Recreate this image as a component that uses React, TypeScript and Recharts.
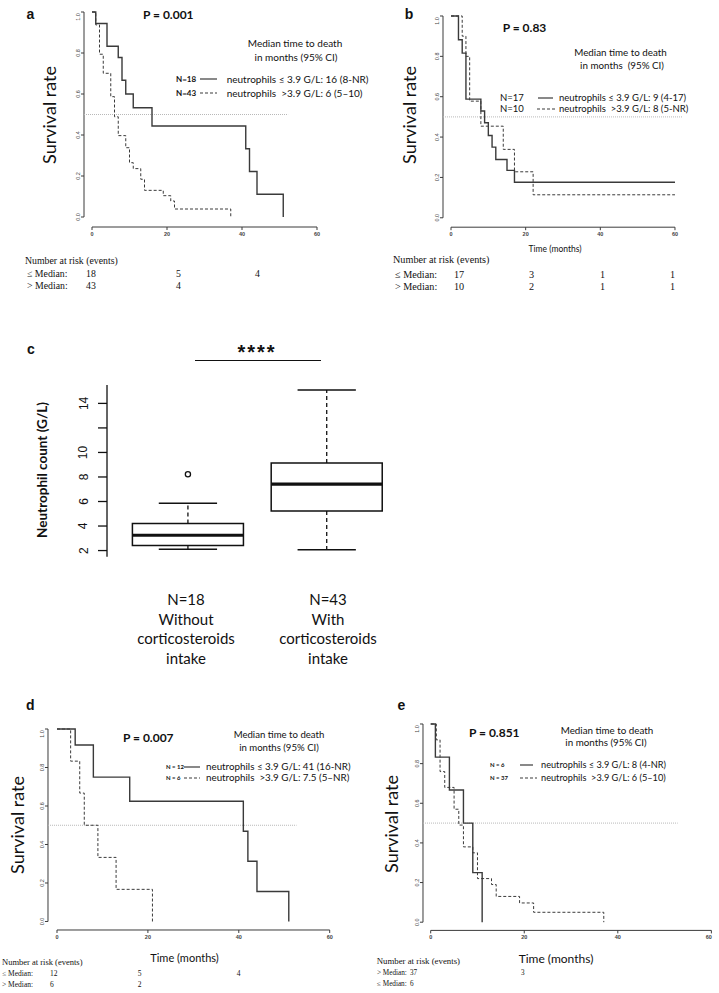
import React from 'react'
import {
  ComposedChart,
  LineChart,
  Line,
  Scatter,
  XAxis,
  YAxis,
  ReferenceLine,
  ReferenceArea,
} from 'recharts'

const LATO = 'Lato, "Open Sans", sans-serif'
const SERIF = '"Liberation Serif", "DejaVu Serif", serif'
const ARIAL = '"Liberation Sans", Arial, sans-serif'
const INK = '#3a3a3a'

// a — whole cohort, neutrophils <= 3.9 vs > 3.9 G/L
const aLowMonths = [0, 1, 4, 7, 8, 9, 11, 16, 41, 42, 44, 51]
const aLowSurv = [1, 0.944, 0.833, 0.778, 0.667, 0.6, 0.533, 0.444, 0.333, 0.222, 0.111, 0]
const aHighMonths = [0, 1, 2, 3, 5, 6, 7, 9, 10, 11, 13, 14, 19, 21, 22, 37]
const aHighSurv = [1, 0.937, 0.794, 0.701, 0.587, 0.489, 0.397, 0.338, 0.265, 0.236, 0.184, 0.13, 0.104, 0.078, 0.039, 0]
const aRiskLow = ['18', '5', '4']
const aRiskHigh = ['43', '4']

// b
const bLowMonths = [0, 2, 3, 4, 8, 9, 10, 11, 12, 15, 17, 60]
const bLowSurv = [1, 0.882, 0.816, 0.588, 0.529, 0.471, 0.408, 0.35, 0.289, 0.235, 0.176, 0.176]
const bHighMonths = [0, 3, 4, 5, 8, 14, 17, 22, 60]
const bHighSurv = [1, 0.9, 0.8, 0.578, 0.454, 0.339, 0.228, 0.114, 0.114]
const bRiskLow = ['17', '3', '1', '1']
const bRiskHigh = ['10', '2', '1', '1']

// d — without corticosteroids
const dLowMonths = [0, 4, 8, 16, 41, 42, 44, 51]
const dLowSurv = [1, 0.917, 0.75, 0.625, 0.469, 0.313, 0.156, 0]
const dHighMonths = [0, 3, 5, 6, 9, 13, 21]
const dHighSurv = [1, 0.833, 0.667, 0.5, 0.333, 0.167, 0]
const dRiskLow = ['12', '5', '4']
const dRiskHigh = ['6', '2']

// e — with corticosteroids
const eLowMonths = [0, 1, 4, 7, 9, 11]
const eLowSurv = [1, 0.833, 0.667, 0.5, 0.25, 0]
const eHighMonths = [0, 1.2, 2, 3, 5, 6, 7, 9, 10, 13, 14, 19, 22, 37]
const eHighSurv = [1, 0.92, 0.76, 0.68, 0.57, 0.49, 0.38, 0.35, 0.22, 0.19, 0.13, 0.097, 0.05, 0]
const eRiskHigh = ['37', '3']
const eRiskLow = ['6']

const kmTicksX = [0, 20, 40, 60]
const kmTicksY = [0, 0.2, 0.4, 0.6, 0.8, 1]

// c — neutrophil count by corticosteroid intake
const boxN = ['N=18', 'N=43']
const boxGroup = ['Without', 'With']
const boxPos = [1, 2]
const boxLowWhisker = [2.11, 2.06]
const boxQ1 = [2.41, 5.23]
const boxMedian = [3.25, 7.41]
const boxQ3 = [4.2, 9.14]
const boxHighWhisker = [5.86, 15.09]
const boxOutliers = [{ x: 1, y: 8.22 }]
const boxTicks = [2, 4, 6, 8, 10, 12, 14]

type Pt = { t: number; s: number }
const toSteps = (months: number[], surv: number[]): Pt[] => months.map((t, i) => ({ t, s: surv[i] }))

function Txt({
  x,
  y,
  size,
  children,
  bold = false,
  font = LATO,
  align = 'left',
  vertical = false,
  spacing = 0,
}: {
  x: number
  y: number
  size: number
  children: React.ReactNode
  bold?: boolean
  font?: string
  align?: 'left' | 'center'
  vertical?: boolean
  spacing?: number
}) {
  const shift = align === 'center' ? '-50%' : '0'
  return (
    <div
      style={{
        position: 'absolute',
        left: x,
        top: y,
        fontSize: size,
        fontFamily: font,
        fontWeight: bold ? 700 : 400,
        lineHeight: 1,
        whiteSpace: 'pre',
        color: '#111',
        letterSpacing: spacing,
        transform: vertical ? 'translate(-50%, -50%) rotate(-90deg)' : `translate(${shift}, -50%)`,
      }}
    >
      {children}
    </div>
  )
}

function Key({ x1, x2, y, dashed }: { x1: number; x2: number; y: number; dashed?: boolean }) {
  return (
    <svg style={{ position: 'absolute', left: x1, top: y - 2 }} width={x2 - x1} height={4}>
      <line x1={0} x2={x2 - x1} y1={2} y2={2} stroke={INK} strokeWidth={1.2} strokeDasharray={dashed ? '3 2' : undefined} />
    </svg>
  )
}

function RiskTable({
  x,
  y,
  size,
  rowSize,
  rowX,
  rows,
  cols,
}: {
  x: number
  y: number
  size: number
  rowSize: number
  rowX: number
  rows: { label: string; values: string[]; y: number }[]
  cols: number[]
}) {
  return (
    <>
      <Txt x={x} y={y} size={size} font={SERIF}>
        Number at risk (events)
      </Txt>
      {rows.map((r) => (
        <React.Fragment key={r.label}>
          <Txt x={rowX} y={r.y} size={rowSize} font={SERIF}>
            {r.label}
          </Txt>
          {r.values.map((v, i) => (
            <Txt key={i} x={cols[i]} y={r.y} size={rowSize} font={SERIF}>
              {v}
            </Txt>
          ))}
        </React.Fragment>
      ))}
    </>
  )
}

/** Kaplan-Meier pair in R base-graphics style: detached axes, tiny rotated tick labels. */
function KmChart({
  left,
  top,
  width,
  height,
  x0,
  ppm,
  span,
  low,
  high,
  medianEnd,
  tickFont = 5.5,
}: {
  left: number
  top: number
  width: number
  height: number
  x0: number
  ppm: number
  span: number
  low: Pt[]
  high: Pt[]
  medianEnd?: number
  tickFont?: number
}) {
  const YW = 14
  const MT = 4
  const MR = 4
  const XH = 14
  const xMin = (left - x0) / ppm
  const xMax = xMin + width / ppm
  const yMin = 1 - height / span
  const xTick = ({ x, y, payload }: any) => (
    <text x={x} y={y} dy="0.71em" textAnchor="middle" fontSize={tickFont} fontWeight="bold" fontFamily={ARIAL} fill="#444">
      {payload.value}
    </text>
  )
  const yTick = ({ x, y, payload }: any) => (
    <text
      x={x + 1}
      y={y}
      transform={`rotate(-90 ${x + 1} ${y})`}
      textAnchor="middle"
      fontSize={tickFont}
      fontFamily={ARIAL}
      fill="#444"
    >
      {Number(payload.value).toFixed(1)}
    </text>
  )
  return (
    <div style={{ position: 'absolute', left: left - YW, top: top - MT }}>
      <LineChart width={YW + width + MR} height={MT + height + XH} margin={{ top: MT, right: MR, bottom: 0, left: 0 }}>
        <XAxis
          type="number"
          dataKey="t"
          domain={[xMin, xMax]}
          ticks={kmTicksX}
          axisLine={false}
          tickSize={3}
          height={XH}
          tickLine={{ stroke: INK }}
          tick={xTick}
        />
        <YAxis
          type="number"
          domain={[yMin, 1]}
          ticks={kmTicksY}
          axisLine={false}
          tickSize={3}
          width={YW}
          tickLine={{ stroke: INK }}
          tick={yTick}
        />
        <ReferenceLine segment={[{ x: xMin, y: 0 }, { x: xMin, y: 1 }]} stroke={INK} strokeWidth={1} ifOverflow="visible" />
        <ReferenceLine segment={[{ x: 0, y: yMin }, { x: 60, y: yMin }]} stroke={INK} strokeWidth={1} ifOverflow="visible" />
        <ReferenceLine
          segment={[{ x: xMin, y: 0.5 }, { x: medianEnd ?? xMax, y: 0.5 }]}
          stroke="#b8b8b8"
          strokeDasharray="1 1"
          ifOverflow="visible"
        />
        <Line data={low} dataKey="s" type="stepAfter" stroke={INK} strokeWidth={1.4} dot={false} isAnimationActive={false} />
        <Line
          data={high}
          dataKey="s"
          type="stepAfter"
          stroke={INK}
          strokeWidth={1}
          strokeDasharray="3 2"
          dot={false}
          isAnimationActive={false}
        />
      </LineChart>
    </div>
  )
}

function BoxPlot() {
  const YW = 60
  const MT = 5
  const MR = 5
  const MB = 5
  const plotLeft = 107
  const plotTop = 385
  const pw = 303
  const ph = 171.7
  const yTick = ({ x, y, payload }: any) =>
    payload.value === 12 ? (
      <g />
    ) : (
      <text x={x - 8.5} y={y} transform={`rotate(-90 ${x - 8.5} ${y})`} textAnchor="middle" fontSize={12} fontFamily={ARIAL} fill="#111">
        {payload.value}
      </text>
    )
  const dot = ({ cx, cy }: any) => <circle cx={cx} cy={cy} r={2.6} fill="none" stroke="#111" strokeWidth={1.3} />
  return (
    <div style={{ position: 'absolute', left: plotLeft - YW, top: plotTop - MT }}>
      <ComposedChart width={YW + pw + MR} height={MT + ph + MB} margin={{ top: MT, right: MR, bottom: MB, left: 0 }}>
        <XAxis type="number" dataKey="x" domain={[0.417, 2.6]} hide />
        <YAxis
          type="number"
          domain={[1.5, 15.5]}
          ticks={boxTicks}
          width={YW}
          tickSize={9}
          axisLine={{ stroke: '#111', strokeWidth: 1.3 }}
          tickLine={{ stroke: '#111', strokeWidth: 1.3 }}
          tick={yTick}
        />
        {boxPos.map((p, i) => (
          <ReferenceArea
            key={`box${i}`}
            x1={p - 0.4}
            x2={p + 0.4}
            y1={boxQ1[i]}
            y2={boxQ3[i]}
            fill="none"
            fillOpacity={0}
            stroke="#111"
            strokeWidth={1.5}
            ifOverflow="visible"
          />
        ))}
        {boxPos.map((p, i) => (
          <ReferenceLine
            key={`med${i}`}
            segment={[{ x: p - 0.4, y: boxMedian[i] }, { x: p + 0.4, y: boxMedian[i] }]}
            stroke="#111"
            strokeWidth={3.2}
            ifOverflow="visible"
          />
        ))}
        {boxPos.map((p, i) => (
          <ReferenceLine
            key={`wu${i}`}
            segment={[{ x: p, y: boxQ3[i] }, { x: p, y: boxHighWhisker[i] }]}
            stroke="#111"
            strokeWidth={1.3}
            strokeDasharray="4 3"
            ifOverflow="visible"
          />
        ))}
        {boxPos.map((p, i) => (
          <ReferenceLine
            key={`wl${i}`}
            segment={[{ x: p, y: boxQ1[i] }, { x: p, y: boxLowWhisker[i] }]}
            stroke="#111"
            strokeWidth={1.3}
            strokeDasharray="4 3"
            ifOverflow="visible"
          />
        ))}
        {boxPos.map((p, i) => (
          <ReferenceLine
            key={`cu${i}`}
            segment={[{ x: p - 0.21, y: boxHighWhisker[i] }, { x: p + 0.21, y: boxHighWhisker[i] }]}
            stroke="#111"
            strokeWidth={1.5}
            ifOverflow="visible"
          />
        ))}
        {boxPos.map((p, i) => (
          <ReferenceLine
            key={`cl${i}`}
            segment={[{ x: p - 0.21, y: boxLowWhisker[i] }, { x: p + 0.21, y: boxLowWhisker[i] }]}
            stroke="#111"
            strokeWidth={1.5}
            ifOverflow="visible"
          />
        ))}
        <Scatter data={boxOutliers} dataKey="y" shape={dot} isAnimationActive={false} />
      </ComposedChart>
    </div>
  )
}

export default function App() {
  return (
    <div style={{ position: 'absolute', left: 0, top: 0, width: 719, height: 993, background: '#fff', overflow: 'hidden' }}>
      {/* ---------- a ---------- */}
      <Txt x={30.5} y={14} size={14} bold font={ARIAL} align="center">a</Txt>
      <Txt x={143} y={15} size={12} bold>P = 0.001</Txt>
      <Txt x={295} y={43.3} size={10} align="center">Median time to death</Txt>
      <Txt x={296} y={56.7} size={10} align="center">in months (95% CI)</Txt>
      <Txt x={176} y={79} size={8} bold>N=18</Txt>
      <Key x1={200} x2={217} y={79} />
      <Txt x={226.7} y={79} size={10}>neutrophils ≤ 3.9 G/L: 16 (8-NR)</Txt>
      <Txt x={176} y={92.5} size={8} bold>N=43</Txt>
      <Key x1={200} x2={217} y={92.5} dashed />
      <Txt x={226.7} y={92.5} size={10}>neutrophils  &gt;3.9 G/L: 6 (5–10)</Txt>
      <Txt x={48.5} y={115} size={18} vertical>Survival rate</Txt>
      <KmChart left={84} top={12} width={241} height={215} x0={92} ppm={3.75} span={205}
        low={toSteps(aLowMonths, aLowSurv)} high={toSteps(aHighMonths, aHighSurv)} medianEnd={52.3} />
      <RiskTable x={25} y={261} size={9.8} rowSize={9.8} rowX={27} cols={[86, 176, 255]}
        rows={[{ label: '≤ Median:', values: aRiskLow, y: 273.5 }, { label: '> Median:', values: aRiskHigh, y: 285.5 }]} />

      {/* ---------- b ---------- */}
      <Txt x={409} y={14} size={14} bold font={ARIAL} align="center">b</Txt>
      <Txt x={502.7} y={27.5} size={12} bold>P = 0.83</Txt>
      <Txt x={620.5} y={52.5} size={9.8} align="center">Median time to death</Txt>
      <Txt x={622} y={66} size={9.8} align="center">in months  (95% CI)</Txt>
      <Txt x={500} y={97.5} size={9.5}>N=17</Txt>
      <Key x1={538} x2={553} y={97.5} />
      <Txt x={559} y={97.5} size={9.5}>neutrophils ≤ 3.9 G/L: 9 (4-17)</Txt>
      <Txt x={500} y={109} size={9.5}>N=10</Txt>
      <Key x1={537} x2={555} y={109} dashed />
      <Txt x={559} y={109} size={9.5}>neutrophils  &gt;3.9 G/L: 8 (5-NR)</Txt>
      <Txt x={408.5} y={115} size={18} vertical>Survival rate</Txt>
      <KmChart left={443} top={15.5} width={240} height={211.2} x0={451} ppm={3.733} span={201.8}
        low={toSteps(bLowMonths, bLowSurv)} high={toSteps(bHighMonths, bHighSurv)} />
      <Txt x={555} y={249} size={8.5} align="center">Time (months)</Txt>
      <RiskTable x={393} y={259.5} size={10.2} rowSize={10.2} rowX={395} cols={[454, 529, 600, 670]}
        rows={[{ label: '≤ Median:', values: bRiskLow, y: 275 }, { label: '> Median:', values: bRiskHigh, y: 286.5 }]} />

      {/* ---------- c ---------- */}
      <Txt x={31} y={348.5} size={14} bold font={ARIAL} align="center">c</Txt>
      <Txt x={257} y={351.5} size={20} bold font={ARIAL} align="center" spacing={2}>****</Txt>
      <div style={{ position: 'absolute', left: 195, top: 360, width: 126, borderTop: '1.5px solid #111' }} />
      <Txt x={42.5} y={470} size={13.5} bold vertical>Neutrophil count (G/L)</Txt>
      <BoxPlot />
      {boxPos.map((p, i) => {
        const cx = i === 0 ? 186 : 328
        return (
          <React.Fragment key={p}>
            <Txt x={cx} y={598.5} size={15} align="center">{boxN[i]}</Txt>
            <Txt x={cx} y={618.5} size={15} align="center">{boxGroup[i]}</Txt>
            <Txt x={cx} y={638} size={15} align="center">corticosteroids</Txt>
            <Txt x={cx} y={657.5} size={15} align="center">intake</Txt>
          </React.Fragment>
        )
      })}

      {/* ---------- d ---------- */}
      <Txt x={30.4} y={705} size={14} bold font={ARIAL} align="center">d</Txt>
      <Txt x={123} y={737.5} size={12} bold>P = 0.007</Txt>
      <Txt x={279} y={735} size={9.6} align="center">Median time to death</Txt>
      <Txt x={279} y={748} size={9.6} align="center">in months (95% CI)</Txt>
      <Txt x={166} y={766.7} size={6} bold>N = 12</Txt>
      <Key x1={184} x2={200} y={766.7} />
      <Txt x={206} y={766.7} size={9.8}>neutrophils ≤ 3.9 G/L: 41 (16-NR)</Txt>
      <Txt x={166} y={777.5} size={6} bold>N = 6</Txt>
      <Key x1={184} x2={200} y={777.5} dashed />
      <Txt x={206} y={777.5} size={9.8}>neutrophils  &gt;3.9 G/L: 7.5 (5–NR)</Txt>
      <Txt x={17} y={825} size={18} vertical>Survival rate</Txt>
      <KmChart left={48.3} top={729} width={290.7} height={201} x0={57.3} ppm={4.545} span={192.5}
        low={toSteps(dLowMonths, dLowSurv)} high={toSteps(dHighMonths, dHighSurv)} medianEnd={52.7} />
      <Txt x={184.5} y={957} size={11} align="center">Time (months)</Txt>
      <RiskTable x={2} y={961.5} size={8.5} rowSize={7.5} rowX={2} cols={[50, 137.7, 236.7]}
        rows={[{ label: '≤ Median:', values: dRiskLow, y: 974 }, { label: '> Median:', values: dRiskHigh, y: 985 }]} />

      {/* ---------- e ---------- */}
      <Txt x={401.5} y={705} size={14} bold font={ARIAL} align="center">e</Txt>
      <Txt x={469} y={733} size={12} bold>P = 0.851</Txt>
      <Txt x={607} y={731} size={9.8} align="center">Median time to death</Txt>
      <Txt x={606} y={743} size={9.8} align="center">in months (95% CI)</Txt>
      <Txt x={490} y={765} size={6} bold>N = 6</Txt>
      <Key x1={520} x2={533} y={765} />
      <Txt x={541} y={765} size={9.2}>neutrophils ≤ 3.9 G/L: 8 (4-NR)</Txt>
      <Txt x={490} y={777.7} size={6} bold>N = 37</Txt>
      <Key x1={520} x2={537} y={777.7} dashed />
      <Txt x={541} y={777.7} size={9.2}>neutrophils  &gt;3.9 G/L: 6 (5–10)</Txt>
      <Txt x={391} y={824} size={18} vertical>Survival rate</Txt>
      <KmChart left={423.3} top={724.3} width={289.7} height={206.4} x0={431} ppm={4.678} span={198.2}
        low={toSteps(eLowMonths, eLowSurv)} high={toSteps(eHighMonths, eHighSurv)} medianEnd={52.8} />
      <Txt x={556} y={959} size={12} align="center">Time (months)</Txt>
      <RiskTable x={376.7} y={961} size={8.8} rowSize={7.2} rowX={377} cols={[410, 521]}
        rows={[{ label: '> Median:', values: eRiskHigh, y: 974 }, { label: '≤ Median:', values: eRiskLow, y: 985 }]} />
    </div>
  )
}
